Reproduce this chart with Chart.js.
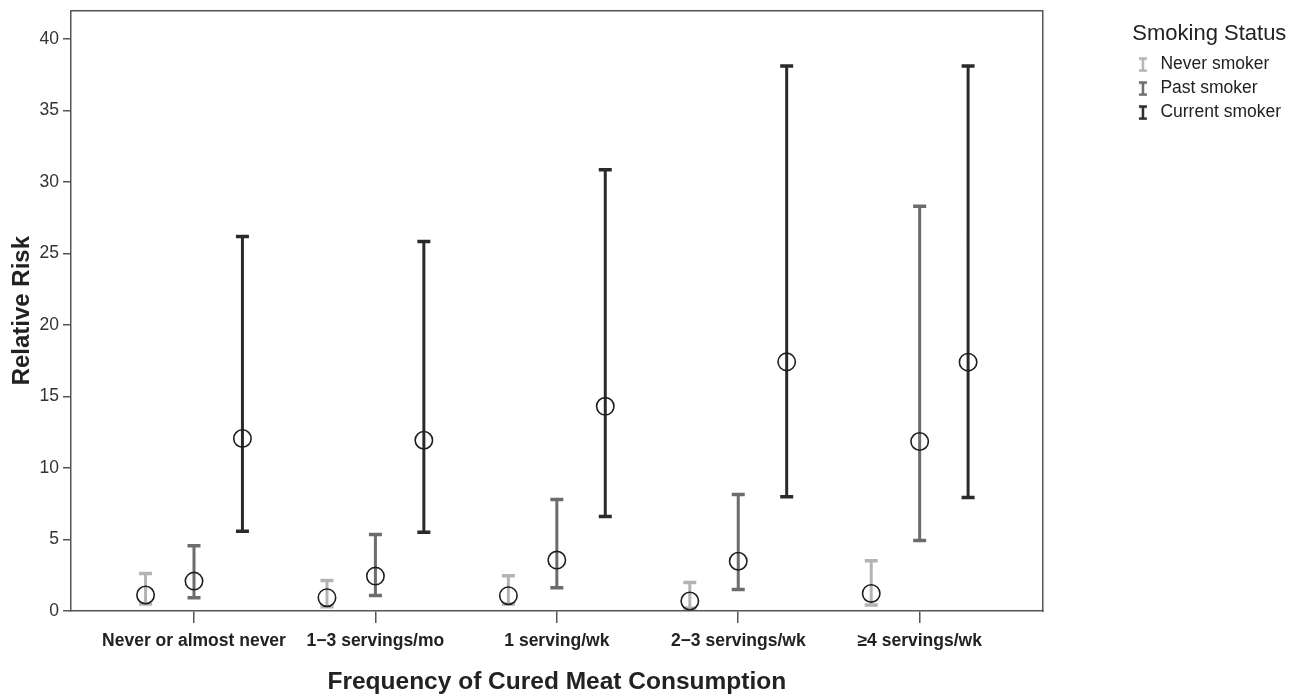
<!DOCTYPE html>
<html>
<head>
<meta charset="utf-8">
<script src="https://cdn.jsdelivr.net/npm/chart.js@4/dist/chart.umd.min.js"></script>
<style>
html,body{margin:0;padding:0;background:#fff;}
#wrap{width:1304px;height:698px;position:relative;}
</style>
</head>
<body>
<div id="wrap"><canvas id="c" width="1304" height="698"></canvas></div>
<script>
const categories = ["Never or almost never", "1\u22123 servings/mo", "1 serving/wk", "2\u22123 servings/wk", "\u22654 servings/wk"];
const seriesNames = ["Never smoker", "Past smoker", "Current smoker"];
const yTicks = [0, 5, 10, 15, 20, 25, 30, 35, 40];

const neverRR = [1.12, 0.93, 1.07, 0.70, 1.23];
const neverLo = [0.49, 0.30, 0.49, 0.19, 0.42];
const neverHi = [2.63, 2.14, 2.47, 2.00, 3.51];

const pastRR = [2.09, 2.44, 3.56, 3.48, 11.85];
const pastLo = [0.93, 1.09, 1.63, 1.51, 4.93];
const pastHi = [4.56, 5.35, 7.80, 8.14, 28.30];

const currentRR = [12.06, 11.94, 14.31, 17.42, 17.40];
const currentLo = [5.58, 5.51, 6.61, 7.98, 7.94];
const currentHi = [26.18, 25.83, 30.86, 38.10, 38.10];

const colors = ["#b4b4b4", "#6c6c6c", "#2a2a2a"];
const offsets = [-0.267, 0, 0.267];
const FONT = "'Liberation Sans', Arial, Helvetica, sans-serif";

const groups = [
  {rr: neverRR, lo: neverLo, hi: neverHi},
  {rr: pastRR, lo: pastLo, hi: pastHi},
  {rr: currentRR, lo: currentLo, hi: currentHi}
];

function barData(g, off) {
  const out = [];
  g.lo.forEach((v, i) => {
    out.push({x: i + off, y: g.lo[i]});
    out.push({x: i + off, y: g.hi[i]});
    out.push({x: i + off, y: null});
  });
  return out;
}
function pointData(g, off) {
  return g.rr.map((v, i) => ({x: i + off, y: v}));
}
function legendIcon(color) {
  const c = document.createElement('canvas');
  c.width = 10; c.height = 15;
  const ctx = c.getContext('2d');
  ctx.strokeStyle = color;
  ctx.lineWidth = 2.5;
  ctx.beginPath();
  ctx.moveTo(1, 1.5); ctx.lineTo(9, 1.5);
  ctx.moveTo(5, 1.5); ctx.lineTo(5, 13.5);
  ctx.moveTo(1, 13.5); ctx.lineTo(9, 13.5);
  ctx.stroke();
  return c;
}
const icons = colors.map(legendIcon);

const datasets = [];
groups.forEach((g, k) => {
  datasets.push({
    type: 'line',
    label: seriesNames[k],
    data: barData(g, offsets[k]),
    borderColor: colors[k],
    borderWidth: 3,
    showLine: true,
    spanGaps: false,
    pointStyle: 'line',
    pointRadius: 6.5,
    pointBorderWidth: 3.5,
    pointBorderColor: colors[k],
    pointBackgroundColor: colors[k],
    fill: false,
    order: 2
  });
});
groups.forEach((g, k) => {
  datasets.push({
    type: 'scatter',
    label: seriesNames[k] + ' RR',
    data: pointData(g, offsets[k]),
    pointStyle: 'circle',
    pointRadius: 8.7,
    pointBorderWidth: 1.6,
    pointBorderColor: '#1e1e1e',
    pointBackgroundColor: 'rgba(0,0,0,0)',
    showLine: false,
    order: 1
  });
});

const axisColor = '#555';

new Chart(document.getElementById('c'), {
  type: 'line',
  data: {datasets},
  options: {
    responsive: false,
    animation: false,
    events: [],
    layout: {padding: {left: 0, right: 13, top: 0, bottom: 0}},
    scales: {
      x: {
        type: 'linear',
        position: 'bottom',
        min: -0.678,
        max: 4.678,
        afterBuildTicks: (s) => { s.ticks = categories.map((c, i) => ({value: i})); },
        afterFit: (s) => { s.height = 87; s.paddingLeft = 0; s.paddingRight = 0; },
        ticks: {
          autoSkip: false,
          maxRotation: 0,
          padding: 8,
          color: '#222',
          font: {family: FONT, size: 17.5, weight: 'bold'},
          callback: (v) => categories[v]
        },
        grid: {drawOnChartArea: false, drawTicks: true, tickLength: 12, color: axisColor, lineWidth: 1.5},
        border: {display: true, color: axisColor, width: 1.5},
        title: {
          display: true,
          text: 'Frequency of Cured Meat Consumption',
          color: '#222',
          font: {family: FONT, size: 24.5, weight: 'bold'},
          padding: {top: 2, bottom: 1}
        }
      },
      y: {
        type: 'linear',
        position: 'left',
        min: 0,
        max: 42,
        afterBuildTicks: (s) => { s.ticks = yTicks.map(v => ({value: v})); },
        afterFit: (s) => { s.width = 71; s.paddingTop = 0; s.paddingBottom = 0; },
        ticks: {
          padding: 4,
          color: '#333',
          font: {family: FONT, size: 17.5}
        },
        grid: {drawOnChartArea: false, drawTicks: true, tickLength: 8, color: axisColor, lineWidth: 1.5},
        border: {display: true, color: axisColor, width: 1.5},
        title: {
          display: true,
          text: 'Relative Risk',
          color: '#222',
          font: {family: FONT, size: 24, weight: 'bold'},
          padding: {top: 8, bottom: 2}
        }
      },
      x2: {
        type: 'linear',
        position: 'top',
        min: 0, max: 1,
        afterFit: (s) => { s.height = 10; s.paddingLeft = 0; s.paddingRight = 0; },
        ticks: {display: false},
        grid: {display: true, drawOnChartArea: false, drawTicks: false},
        border: {display: true, color: axisColor, width: 1.5}
      },
      y2: {
        type: 'linear',
        position: 'right',
        min: 0, max: 1,
        afterFit: (s) => { s.width = 85; s.paddingTop = 0; s.paddingBottom = 0; },
        ticks: {display: false},
        grid: {display: true, drawOnChartArea: false, drawTicks: false},
        border: {display: true, color: axisColor, width: 1.5}
      }
    },
    plugins: {
      tooltip: {enabled: false},
      legend: {
        display: true,
        position: 'right',
        align: 'start',
        title: {
          display: true,
          text: 'Smoking Status',
          color: '#222',
          font: {family: FONT, size: 22},
          padding: {top: 23, bottom: 0}
        },
        labels: {
          usePointStyle: true,
          padding: 6.5,
          color: '#222',
          font: {family: FONT, size: 17.5},
          filter: (item) => item.datasetIndex < 3,
          generateLabels: (chart) => seriesNames.map((n, k) => ({
            text: n,
            datasetIndex: k,
            pointStyle: icons[k],
            fillStyle: colors[k],
            strokeStyle: colors[k],
            lineWidth: 0,
            hidden: false,
            fontColor: '#222'
          }))
        }
      }
    }
  }
});
</script>
</body>
</html>
